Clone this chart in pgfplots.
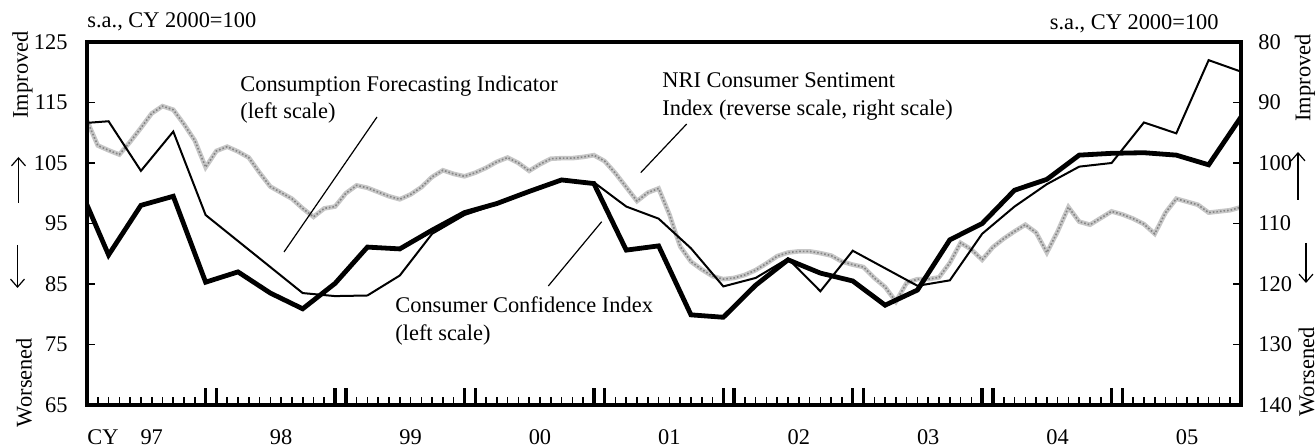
\documentclass[border=0pt]{standalone}
\usepackage{pgfplots}
\pgfplotsset{compat=1.18}
\usepackage{pgfplotstable}
\usepackage{fontspec}
\setmainfont{Liberation Serif}
\usetikzlibrary{arrows.meta}
\newcommand{\lbl}{\fontsize{11.2}{13.4}\selectfont}

% Consumer Confidence Index (quarterly, left scale)
\pgfplotstableread{
x v
-1 102.2
2 89.8
5 98.0
8 99.5
11 85.3
14 87.0
17 83.5
20 80.9
23 85.1
26 91.1
29 90.8
32 93.9
35 96.8
38 98.3
41 100.3
44 102.2
47 101.6
50 90.6
53 91.3
56 79.9
59 79.5
62 84.8
65 89.0
68 86.8
71 85.5
74 81.5
77 84.0
80 92.3
83 95.0
86 100.5
89 102.3
92 106.3
95 106.6
98 106.7
101 106.3
104 104.7
107 112.6
}\cci

% Consumption Forecasting Indicator (quarterly, left scale)
\pgfplotstableread{
x v
-1 111.5
2 111.9
5 103.7
8 110.2
11 96.4
14 92.1
17 87.8
20 83.5
23 83.0
26 83.1
29 86.4
32 93.3
35 96.4
38 98.2
41 100.2
44 102.1
47 101.8
50 97.8
53 95.8
56 90.9
59 84.6
62 86.0
65 89.2
68 83.8
71 90.5
74 87.6
77 84.7
80 85.6
83 93.3
86 97.8
89 101.5
92 104.4
95 105.0
98 111.7
101 109.9
104 122.0
107 120.1
}\cfi

% NRI Consumer Sentiment Index (monthly, reverse right scale)
\pgfplotstableread{
x v
0 93.0
1 97.1
2 97.9
3 98.6
4 96.5
5 94.2
6 91.8
7 90.6
8 91.2
9 93.6
10 96.3
11 100.7
12 98.0
13 97.3
14 98.1
15 99.1
16 101.6
17 103.9
18 104.9
19 105.9
20 107.5
21 108.9
22 107.5
23 107.2
24 105.0
25 103.7
26 104.1
27 104.8
28 105.5
29 106.0
30 105.2
31 104.0
32 102.3
33 101.2
34 101.8
35 102.2
36 101.6
37 100.8
38 99.8
39 99.1
40 100.0
41 101.3
42 100.2
43 99.3
44 99.2
45 99.2
46 99.0
47 98.7
48 99.7
49 101.7
50 104.0
51 106.3
52 104.9
53 104.2
54 108.5
55 113.8
56 116.3
57 117.6
58 118.7
59 119.2
60 119.0
61 118.5
62 117.7
63 116.6
64 115.4
65 114.8
66 114.6
67 114.6
68 114.9
69 115.3
70 116.3
71 116.8
72 117.2
73 119.0
74 120.5
75 122.9
76 119.8
77 119.2
78 119.2
79 118.9
80 116.5
81 113.2
82 114.3
83 116.0
84 113.9
85 112.5
86 111.3
87 110.2
88 111.5
89 114.8
90 111.3
91 107.3
92 109.7
93 110.2
94 109.1
95 108.0
96 108.5
97 109.2
98 110.1
99 111.7
100 108.2
101 105.9
102 106.4
103 106.9
104 108.2
105 108.0
106 107.8
107 107.3
}\nri

\begin{document}
\begin{tikzpicture}
% right (reverse) scale with the NRI index
\begin{axis}[at={(0pt,0pt)}, anchor=south west, scale only axis,
  width=577pt, height=181.5pt,
  xmin=0, xmax=107, ymin=80, ymax=140, y dir=reverse,
  hide x axis, axis y line*=right,
  axis line style={line width=1.7pt},
  ytick={80,90,...,140}, tick align=inside, major tick length=4pt,
  tick style={line width=0.8pt, black},
  yticklabel style={anchor=west, inner sep=0pt, xshift=8.5pt, font=\lbl},
  /pgf/number format/assume math mode=true]
\addplot[black!22, line width=2.3pt] table {\nri};
\addplot[black!48, line width=0.8pt, densely dotted] table {\nri};
\end{axis}
% left scale
\begin{axis}[at={(0pt,0pt)}, anchor=south west, scale only axis,
  width=577pt, height=181.5pt,
  xmin=0, xmax=107, ymin=65, ymax=125,
  axis line style={line width=1.7pt},
  xtick pos=left, ytick pos=left,
  ytick={65,75,...,125}, tick align=inside, major tick length=4pt,
  tick style={line width=0.8pt, black},
  xtick={1,...,106}, xticklabels={},
  extra x ticks={0,11,12,23,24,35,36,47,48,59,60,71,72,83,84,95,96,107},
  extra x tick labels={},
  extra x tick style={major tick length=8.5pt, tick style={line width=1.7pt, black}},
  yticklabel style={anchor=east, inner sep=0pt, xshift=-9.5pt, font=\lbl},
  /pgf/number format/assume math mode=true]
\addplot[black, line width=1pt] table {\cfi};
\addplot[black, line width=2.4pt] table {\cci};
\end{axis}

% year labels
\node[anchor=base west, inner sep=0pt, font=\lbl] at (0pt,-20pt) {CY};
\foreach \i/\t in {0/97,1/98,2/99,3/00,4/01,5/02,6/03,7/04,8/05}{
  \pgfmathsetmacro{\xp}{(6+12*\i)*5.392523}
  \node[anchor=base, inner sep=0pt, font=\lbl] at (\xp pt,-20pt) {\t};
}
% units
\node[anchor=base west, inner sep=0pt, font=\lbl] at (0pt,188.5pt) {s.a., CY 2000=100};
\node[anchor=base east, inner sep=0pt, font=\lbl] at (566pt,187.5pt) {s.a., CY 2000=100};

% side labels
\node[rotate=90, inner sep=0pt, font=\lbl] at (-32.25pt,165pt) {Improved};
\node[rotate=90, inner sep=0pt, font=\lbl] at (-31.5pt,11.25pt) {Worsened};
\node[rotate=90, inner sep=0pt, font=\lbl] at (609pt,163.5pt) {Improved};
\node[rotate=90, inner sep=0pt, font=\lbl] at (609.75pt,16.5pt) {Worsened};
\draw[line width=0.6pt, -{Straight Barb[length=4pt,width=7pt]}] (-34.25pt,101pt) -- (-34.25pt,124pt);
\draw[line width=0.6pt, -{Straight Barb[length=4pt,width=7pt]}] (-34.75pt,80pt) -- (-34.75pt,58.5pt);
\draw[line width=0.6pt, -{Straight Barb[length=4pt,width=7pt]}] (605.5pt,102.5pt) -- (605.5pt,126.5pt);
\draw[line width=0.6pt, -{Straight Barb[length=4pt,width=7pt]}] (609.5pt,81pt) -- (609.5pt,61pt);

% annotations
\node[anchor=base west, inner sep=0pt, font=\lbl] at (76.5pt,156.5pt) {Consumption Forecasting Indicator};
\node[anchor=base west, inner sep=0pt, font=\lbl] at (76.5pt,143pt) {(left scale)};
\draw[line width=0.6pt] (145pt,144pt) -- (98.5pt,76.5pt);

\node[anchor=base west, inner sep=0pt, font=\lbl] at (287.5pt,158.5pt) {NRI Consumer Sentiment};
\node[anchor=base west, inner sep=0pt, font=\lbl] at (287.5pt,144.5pt) {Index (reverse scale, right scale)};
\draw[line width=0.6pt] (299.85pt,140.5pt) -- (276.85pt,116.15pt);

\node[anchor=base west, inner sep=0pt, font=\lbl] at (154pt,46pt) {Consumer Confidence Index};
\node[anchor=base west, inner sep=0pt, font=\lbl] at (154pt,32.3pt) {(left scale)};
\draw[line width=0.6pt] (257.35pt,91.65pt) -- (230.65pt,59.5pt);

\pgfresetboundingbox
\path (-43.5pt,-21.5pt) rectangle (614.5pt,202.5pt);
\end{tikzpicture}
\end{document}
